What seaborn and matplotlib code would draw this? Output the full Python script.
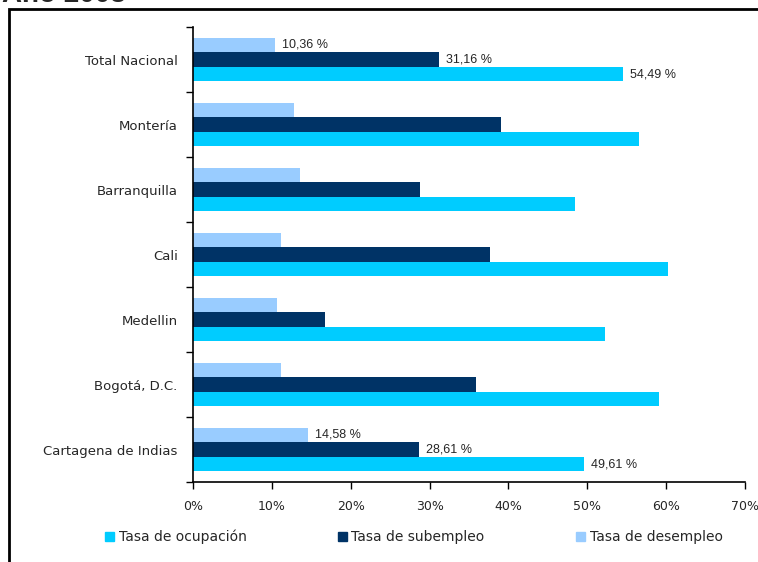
import numpy as np
import pandas as pd
import seaborn as sns
import matplotlib.pyplot as plt
from matplotlib.patches import Patch, Rectangle

# Data (percent)
ciudades = ['Total Nacional', 'Montería', 'Barranquilla', 'Cali', 'Medellin',
            'Bogotá, D.C.', 'Cartagena de Indias']
ocupacion = [54.49, 56.5, 48.5, 60.2, 52.3, 59.1, 49.61]
subempleo = [31.16, 39.0, 28.8, 37.6, 16.8, 35.9, 28.61]
desempleo = [10.36, 12.8, 13.6, 11.2, 10.6, 11.1, 14.58]
series = ['Tasa de ocupación', 'Tasa de subempleo', 'Tasa de desempleo']
colores = {'Tasa de ocupación': '#00CCFF',
           'Tasa de subempleo': '#003366',
           'Tasa de desempleo': '#99CCFF'}
xticks = [0, 10, 20, 30, 40, 50, 60, 70]

df = pd.DataFrame({
    'ciudad': ciudades * 3,
    'valor': ocupacion + subempleo + desempleo,
    'serie': np.repeat(series, len(ciudades)),
})

sns.set_style('ticks')
plt.rcParams['font.family'] = ['DejaVu Sans']

fig = plt.figure(figsize=(7.58, 5.62), dpi=100)
ax = fig.add_axes([193 / 758, 1 - 482 / 562, 552 / 758, 455 / 562])

# top-to-bottom inside each group: desempleo, subempleo, ocupacion
orden = ['Tasa de desempleo', 'Tasa de subempleo', 'Tasa de ocupación']
sns.barplot(data=df, y='ciudad', x='valor', hue='serie', hue_order=orden,
            order=ciudades, palette=colores, orient='h', width=0.67,
            saturation=1, legend=False, linewidth=0, edgecolor='none', ax=ax)

# value labels only for first and last city
for cont, serie in zip(ax.containers, orden):
    vals = dict(zip(ciudades, df[df.serie == serie].valor))
    labs = [f"{vals[c]:.2f} %".replace('.', ',') if c in (ciudades[0], ciudades[-1]) else ''
            for c in ciudades]
    ax.bar_label(cont, labels=labs, padding=5, fontsize=9,
                 family=['Liberation Sans', 'DejaVu Sans'])

ax.set_xlim(0, 70)
ax.set_ylim(6.5, -0.5)
ax.set_xticks(xticks)
ax.set_xticklabels([f"{t}%" for t in xticks])
ax.set_xlabel('')
ax.set_ylabel('')
ax.set_yticks(np.arange(-0.5, 7, 1), minor=True)
ax.tick_params(axis='y', which='major', length=0, pad=11, labelsize=9.5)
ax.tick_params(axis='y', which='minor', length=5, width=1, color='black')
ax.tick_params(axis='x', length=5, width=1, color='black', pad=8, labelsize=9)
sns.despine(ax=ax)
for s in ['left', 'bottom']:
    ax.spines[s].set_color('black')
    ax.spines[s].set_linewidth(1.2)

handles = [Patch(color=colores[s]) for s in series]
fig.legend(handles, series, loc='center', ncol=3, frameon=False,
           bbox_to_anchor=(414 / 758, 1 - 537 / 562), fontsize=10,
           handlelength=0.6, handleheight=0.7, handletextpad=0.35,
           columnspacing=6.6)

# outer frame and the clipped title at the top
fig.add_artist(Rectangle((9 / 758, -0.2), 1.2, 1.2 - 9 / 562,
                         transform=fig.transFigure, fill=False,
                         edgecolor='black', linewidth=2))
fig.text(2 / 758, 1 - 2 / 562, 'Año 2008', fontsize=20, fontweight='bold',
         va='baseline', ha='left', family=['Liberation Sans', 'DejaVu Sans'])

fig.savefig('out.png', dpi=100)
